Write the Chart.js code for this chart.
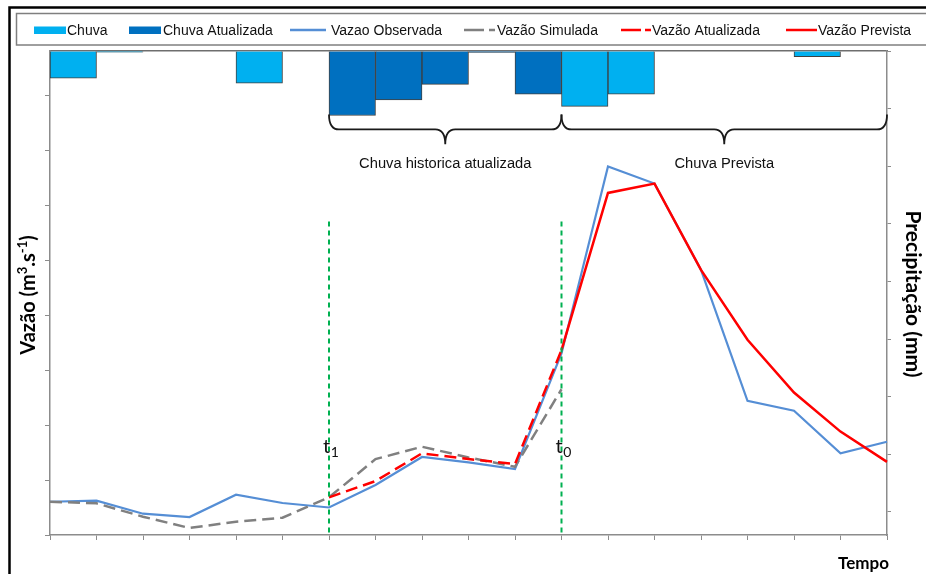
<!DOCTYPE html>
<html>
<head>
<meta charset="utf-8">
<script src="https://cdn.jsdelivr.net/npm/chart.js@4/dist/chart.umd.min.js"></script>
<style>
  html, body { margin: 0; padding: 0; background: #ffffff; }
  #wrap { width: 926px; height: 574px; position: relative; }
</style>
</head>
<body>
<div id="wrap"><canvas id="chart" width="926" height="574"></canvas></div>
<script>
// Time steps of the hydrograph (flow values sit on the step boundaries)
const timeSteps = ['0', '1', '2', '3', '4', '5', '6', '7', '8', '9', '10', '11', '12', '13', '14', '15', '16', '17', '18'];
// Rain intervals (one bar between two consecutive time steps)
const rainIntervals = ['1', '2', '3', '4', '5', '6', '7', '8', '9', '10', '11', '12', '13', '14', '15', '16', '17', '18'];

// Precipitation (mm), hanging from the top axis
const chuva = [4.7, 0.2, null, null, 5.6, null, null, null, null, null, null, 9.6, 7.5, null, null, null, 1.0, null];
const chuvaAtualizada = [null, null, null, null, null, null, 11.2, 8.5, 5.8, 0.25, 7.5, null, null, null, null, null, null, null];

// Flow (m³/s)
const vazaoObservada = [6.05, 6.24, 3.87, 3.27, 7.33, 5.82, 5.0, 9.09, 14.18, 13.2, 12.0, 33.0, 67.0, 63.9, 48.2, 24.4, 22.6, 14.85, 16.96];
const vazaoSimulada = [6.05, 5.76, 3.33, 1.27, 2.42, 3.15, 6.85, 13.8, 16.05, 14.1, 12.4, 26.5, null, null, null, null, null, null, null];
const vazaoAtualizada = [null, null, null, null, null, null, 6.85, 9.8, 14.85, 13.8, 12.9, 33.6, null, null, null, null, null, null, null];
const vazaoPrevista = [null, null, null, null, null, null, null, null, null, null, null, 33.6, 62.2, 63.9, 48.2, 35.5, 25.9, 18.8, 13.3];

// Time markers (vertical dashed lines) and the rain periods they delimit
const markerSteps = [6, 11];
const markerNames = ['t', 't'];
const markerSubs = ['1', '0'];
const periodNames = ['Chuva historica atualizada', 'Chuva Prevista'];
const periodStart = [6, 11];
const periodEnd = [11, 18];

// Axis ranges
const flowMax = 88, rainMax = 84, tickStep = 10;

const C_CHUVA = '#00B0F0';
const C_CHUVA_AT = '#0070C0';
const C_OBS = '#558ED5';
const C_SIM = '#808080';
const C_RED = '#FF0000';
const C_AXIS = '#8C8C8C';

const keepStepTicks = (scale) => {
  scale.ticks = scale.ticks.filter(t => t.value % tickStep === 0);
};

const annotations = {
  id: 'annotations',
  afterDatasetsDraw(chart) {
    const { ctx, chartArea: a, scales } = chart;
    const x = scales.x, yQ = scales.yQ, yP = scales.yP;
    ctx.save();

    // vertical time markers
    ctx.strokeStyle = '#00B050';
    ctx.lineWidth = 2;
    ctx.setLineDash([5, 4]);
    markerSteps.forEach(i => {
      const px = x.getPixelForValue(i);
      ctx.beginPath();
      ctx.moveTo(px, yQ.getPixelForValue(57));
      ctx.lineTo(px, a.bottom);
      ctx.stroke();
    });
    ctx.setLineDash([]);

    // marker labels t1 / t0
    ctx.fillStyle = '#111';
    ctx.textBaseline = 'alphabetic';
    markerSteps.forEach((i, k) => {
      const px = x.getPixelForValue(i);
      const by = yQ.getPixelForValue(14.9);
      ctx.font = '20px Lato';
      ctx.textAlign = 'left';
      const tx = px - 6;
      ctx.fillText(markerNames[k], tx, by);
      const w = ctx.measureText(markerNames[k]).width;
      ctx.font = '14px Lato';
      ctx.fillText(markerSubs[k], tx + w + 0.5, by + 4);
    });

    // braces over the rain periods
    ctx.strokeStyle = '#1A1A1A';
    ctx.lineWidth = 1.8;
    const yTop = yP.getPixelForValue(11.0);
    const yMid = yP.getPixelForValue(13.6);
    const yTip = yP.getPixelForValue(16.2);
    const r = 10;
    periodStart.forEach((s, k) => {
      const x0 = x.getPixelForValue(s);
      const x1 = x.getPixelForValue(periodEnd[k]);
      const xc = (x0 + x1) / 2;
      ctx.beginPath();
      ctx.moveTo(x0, yTop);
      ctx.quadraticCurveTo(x0, yMid, x0 + r, yMid);
      ctx.lineTo(xc - r, yMid);
      ctx.quadraticCurveTo(xc, yMid, xc, yTip);
      ctx.quadraticCurveTo(xc, yMid, xc + r, yMid);
      ctx.lineTo(x1 - r, yMid);
      ctx.quadraticCurveTo(x1, yMid, x1, yTop);
      ctx.stroke();

      ctx.font = '14.7px "Liberation Sans"';
      ctx.textAlign = 'center';
      ctx.fillStyle = '#111';
      ctx.fillText(periodNames[k], xc, yP.getPixelForValue(20.3));
    });
    ctx.restore();
  },
  afterDraw(chart) {
    const { ctx, chartArea: a } = chart;
    ctx.save();

    // outer frame
    ctx.strokeStyle = '#000';
    ctx.lineWidth = 2.5;
    ctx.beginPath();
    ctx.moveTo(9.5, 580);
    ctx.lineTo(9.5, 7.5);
    ctx.lineTo(930, 7.5);
    ctx.stroke();

    // legend box
    ctx.strokeStyle = '#7F7F7F';
    ctx.lineWidth = 1.5;
    ctx.strokeRect(16.5, 13.5, 920, 31.5);

    // legend entries
    const ly = 30;
    const items = [
      { kind: 'box', color: C_CHUVA, x0: 34, x1: 66, text: 'Chuva', tx: 67 },
      { kind: 'box', color: C_CHUVA_AT, x0: 129, x1: 161, text: 'Chuva Atualizada', tx: 163 },
      { kind: 'line', color: C_OBS, x0: 290, x1: 326, text: 'Vazao Observada', tx: 331 },
      { kind: 'dash', color: C_SIM, x0: 464, x1: 495, text: 'Vazão Simulada', tx: 497 },
      { kind: 'dash', color: C_RED, x0: 621, x1: 651, text: 'Vazão Atualizada', tx: 652 },
      { kind: 'line', color: C_RED, x0: 786, x1: 817, text: 'Vazão Prevista', tx: 818 }
    ];
    items.forEach(it => {
      if (it.kind === 'box') {
        ctx.fillStyle = it.color;
        ctx.fillRect(it.x0, ly - 3.5, it.x1 - it.x0, 7.5);
      } else {
        ctx.strokeStyle = it.color;
        ctx.lineWidth = 2.5;
        ctx.beginPath();
        if (it.kind === 'line') {
          ctx.moveTo(it.x0, ly); ctx.lineTo(it.x1, ly);
        } else {
          ctx.moveTo(it.x0, ly); ctx.lineTo(it.x0 + 20, ly);
          ctx.moveTo(it.x1 - 6, ly); ctx.lineTo(it.x1, ly);
        }
        ctx.stroke();
      }
      ctx.fillStyle = '#111';
      ctx.font = '14px "Liberation Sans"';
      ctx.textAlign = 'left';
      ctx.textBaseline = 'alphabetic';
      ctx.fillText(it.text, it.tx, 35);
    });

    // axis titles
    const rich = (parts, cx, by) => {
      let total = 0;
      parts.forEach(p => { ctx.font = p.font; p.w = ctx.measureText(p.t).width; total += p.w; });
      let px = cx - total / 2;
      parts.forEach(p => { ctx.font = p.font; ctx.fillText(p.t, px, by + (p.dy || 0)); px += p.w; });
    };
    ctx.fillStyle = '#000';
    ctx.textAlign = 'left';
    const midY = (a.top + a.bottom) / 2;

    ctx.save();
    ctx.translate(35, midY + 2);
    ctx.rotate(-Math.PI / 2);
    rich([
      { t: 'Vazão (m', font: 'bold 20px Lato' },
      { t: '3', font: 'bold 13px Lato', dy: -8 },
      { t: '.s', font: 'bold 20px Lato' },
      { t: '-1', font: 'bold 13px Lato', dy: -8 },
      { t: ')', font: 'bold 20px Lato' }
    ], 0, 0);
    ctx.restore();

    ctx.save();
    ctx.translate(906, midY + 1);
    ctx.rotate(Math.PI / 2);
    rich([{ t: 'Precipitação (mm)', font: 'bold 21px Lato' }], 0, 0);
    ctx.restore();

    ctx.font = 'bold 17px Lato';
    ctx.textAlign = 'right';
    ctx.fillText('Tempo', a.right + 2, 569);
    ctx.restore();
  }
};

new Chart(document.getElementById('chart'), {
  type: 'bar',
  data: {
    labels: timeSteps,
    datasets: [
      { type: 'line', label: 'Vazão Prevista', data: vazaoPrevista, xAxisID: 'x', yAxisID: 'yQ',
        borderColor: C_RED, borderWidth: 2.5, pointRadius: 0, tension: 0, order: 1 },
      { type: 'line', label: 'Vazão Atualizada', data: vazaoAtualizada, xAxisID: 'x', yAxisID: 'yQ',
        borderColor: C_RED, borderWidth: 2.5, borderDash: [12, 6], pointRadius: 0, tension: 0, order: 2 },
      { type: 'line', label: 'Vazão Simulada', data: vazaoSimulada, xAxisID: 'x', yAxisID: 'yQ',
        borderColor: C_SIM, borderWidth: 2.5, borderDash: [12, 6], pointRadius: 0, tension: 0, order: 3 },
      { type: 'line', label: 'Vazao Observada', data: vazaoObservada, xAxisID: 'x', yAxisID: 'yQ',
        borderColor: C_OBS, borderWidth: 2.2, pointRadius: 0, tension: 0, order: 4 },
      { type: 'bar', label: 'Chuva Atualizada', data: chuvaAtualizada, xAxisID: 'xb', yAxisID: 'yP',
        backgroundColor: C_CHUVA_AT, borderColor: 'rgba(30,30,30,0.85)', borderWidth: 1,
        barPercentage: 1, categoryPercentage: 1, grouped: false, order: 10 },
      { type: 'bar', label: 'Chuva', data: chuva, xAxisID: 'xb', yAxisID: 'yP',
        backgroundColor: C_CHUVA, borderColor: 'rgba(30,30,30,0.85)', borderWidth: 1,
        barPercentage: 1, categoryPercentage: 1, grouped: false, order: 11 }
    ]
  },
  options: {
    responsive: false,
    animation: false,
    devicePixelRatio: 1,
    layout: { padding: { top: 51, left: 0, right: 0, bottom: 0 } },
    plugins: { legend: { display: false }, tooltip: { enabled: false } },
    scales: {
      x: {
        type: 'category', position: 'bottom', labels: timeSteps, offset: false,
        grid: { offset: false, drawOnChartArea: false, drawTicks: true, tickLength: 5, color: C_AXIS, lineWidth: 1 },
        border: { color: C_AXIS, width: 1.5 },
        ticks: { display: false, autoSkip: false },
        afterFit: s => { s.height = 39; }
      },
      xb: {
        type: 'category', position: 'top', labels: rainIntervals, offset: true,
        grid: { display: false, drawOnChartArea: false, drawTicks: false },
        border: { display: true, color: '#6E6E6E', width: 1.5 },
        ticks: { display: false },
        afterFit: s => { s.height = 0; }
      },
      yQ: {
        type: 'linear', position: 'left', min: 0, max: flowMax,
        ticks: { display: false, stepSize: tickStep },
        grid: { drawOnChartArea: false, drawTicks: true, tickLength: 5, color: C_AXIS, lineWidth: 1 },
        border: { color: C_AXIS, width: 1.5 },
        afterBuildTicks: keepStepTicks,
        afterFit: s => { s.width = 50; }
      },
      yP: {
        type: 'linear', position: 'right', min: 0, max: rainMax, reverse: true,
        ticks: { display: false, stepSize: tickStep },
        grid: { drawOnChartArea: false, drawTicks: true, tickLength: 4, color: C_AXIS, lineWidth: 1 },
        border: { color: C_AXIS, width: 1.5 },
        afterBuildTicks: keepStepTicks,
        afterFit: s => { s.width = 39; }
      }
    }
  },
  plugins: [annotations]
});
</script>
</body>
</html>
